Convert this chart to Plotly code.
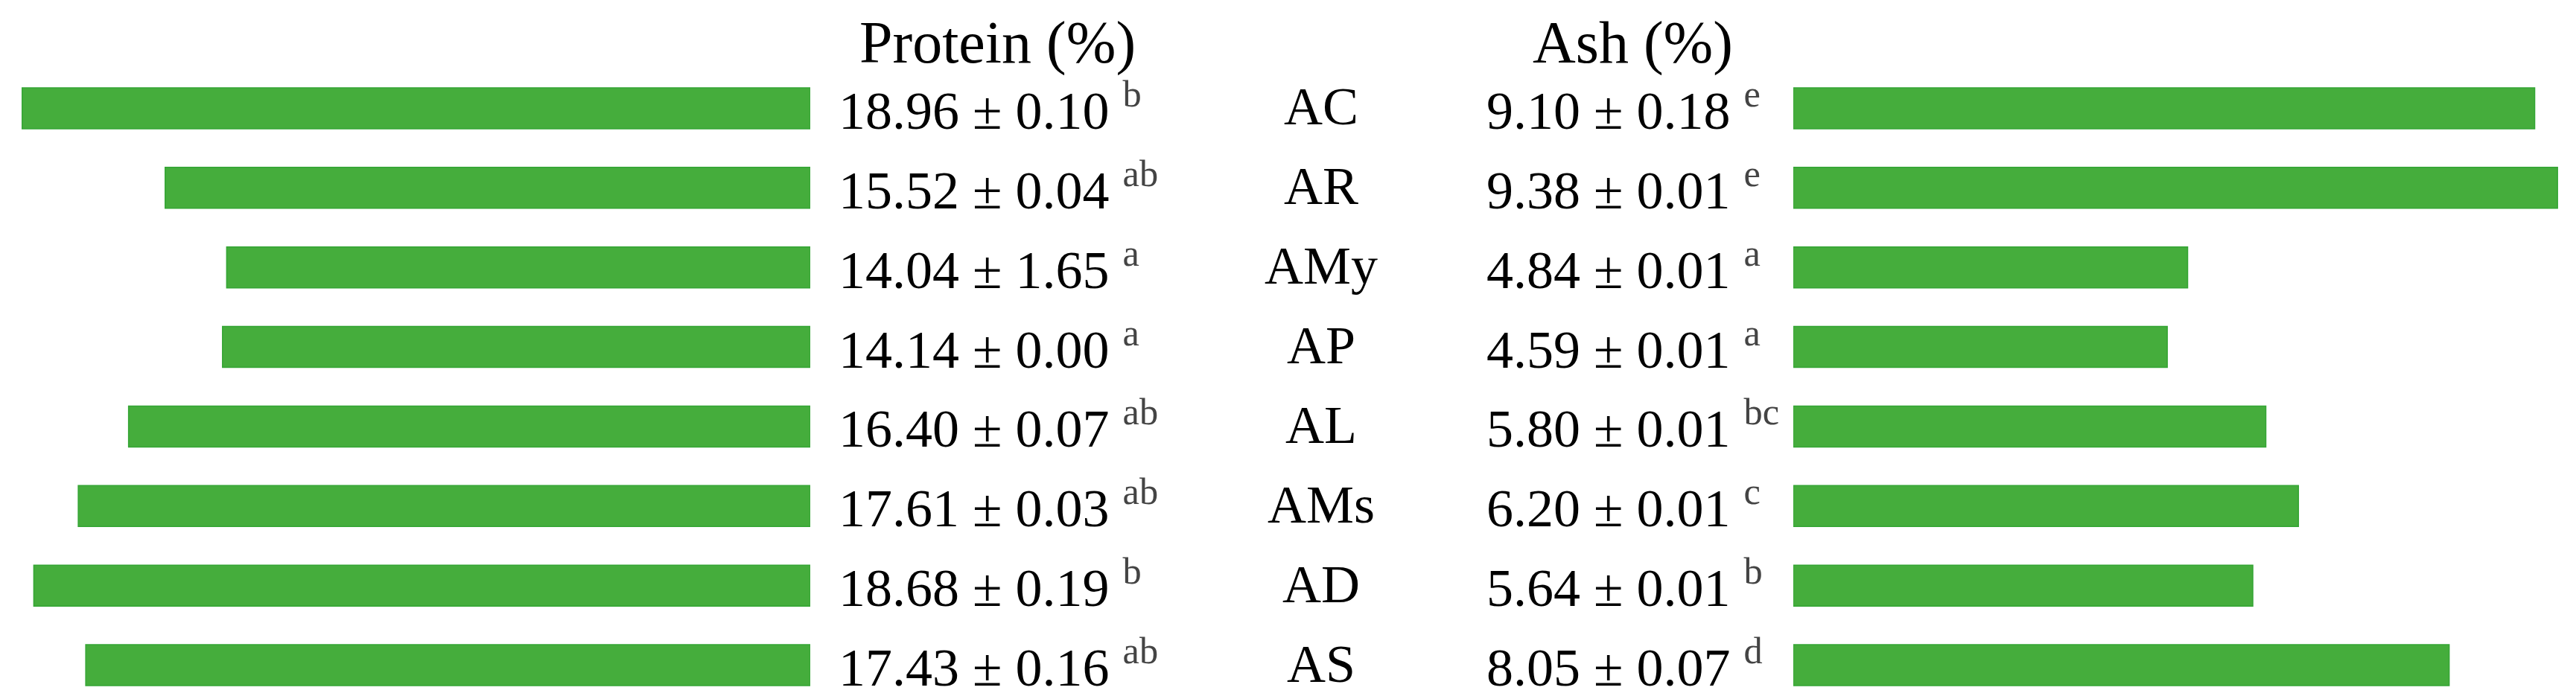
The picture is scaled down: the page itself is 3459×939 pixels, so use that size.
import plotly.graph_objects as go

samples = ["AC", "AR", "AMy", "AP", "AL", "AMs", "AD", "AS"]
protein = [18.96, 15.52, 14.04, 14.14, 16.40, 17.61, 18.68, 17.43]
protein_sd = [0.10, 0.04, 1.65, 0.00, 0.07, 0.03, 0.19, 0.16]
protein_grp = ["b", "ab", "a", "a", "ab", "ab", "b", "ab"]
ash = [9.10, 9.38, 4.84, 4.59, 5.80, 6.20, 5.64, 8.05]
ash_sd = [0.18, 0.01, 0.01, 0.01, 0.01, 0.01, 0.01, 0.07]
ash_grp = ["e", "e", "a", "a", "bc", "c", "b", "d"]

W, H = 3459, 939
green = "#45ad3c"
font = "Liberation Serif"
fsize = 72

fig = go.Figure()
fig.add_trace(go.Bar(x=protein, y=samples, orientation="h", width=0.515,
                     marker=dict(color=green, line=dict(color="#34a534", width=1.5)),
                     xaxis="x", yaxis="y", showlegend=False))
fig.add_trace(go.Bar(x=ash, y=samples, orientation="h", width=0.515,
                     marker=dict(color=green, line=dict(color="#34a534", width=1.5)),
                     xaxis="x2", yaxis="y", showlegend=False))

def label(v, sd, g):
    return f"{v:.2f} ± {sd:.2f} <sup><span style='color:#444'>{g}</span></sup>"

txt = dict(family=font, size=fsize, color="black")
ann = []
for s, v, sd, g in zip(samples, protein, protein_sd, protein_grp):
    ann.append(dict(x=1116 / W, xref="paper", y=s, yref="y", text=label(v, sd, g), font=txt,
                    xanchor="left", yanchor="middle", yshift=2, showarrow=False))
for s in samples:
    ann.append(dict(x=1766 / W, xref="paper", y=s, yref="y", text=s, font=txt,
                    xanchor="center", yanchor="middle", yshift=2, showarrow=False))
for s, v, sd, g in zip(samples, ash, ash_sd, ash_grp):
    ann.append(dict(x=1986 / W, xref="paper", y=s, yref="y", text=label(v, sd, g), font=txt,
                    xanchor="left", yanchor="middle", yshift=2, showarrow=False))
head = dict(family=font, size=80, color="black")
ann.append(dict(x=1331 / W, y=1 - 50 / H, xref="paper", yref="paper", text="Protein (%)",
                xanchor="center", yanchor="middle", showarrow=False, font=head))
ann.append(dict(x=2184 / W, y=1 - 50 / H, xref="paper", yref="paper", text="Ash (%)",
                xanchor="center", yanchor="middle", showarrow=False, font=head))

fig.update_layout(
    width=W, height=H,
    margin=dict(l=0, r=0, t=0, b=0),
    paper_bgcolor="white", plot_bgcolor="white",
    font=dict(family=font, size=fsize, color="black"),
    xaxis=dict(domain=[0, 1080 / W], range=[19.35, 0], visible=False),
    xaxis2=dict(domain=[2400 / W, 1], range=[0, 1059 / 109.4], visible=False),
    yaxis=dict(domain=[0, 1 - 84 / H], range=[7.5, -0.5], visible=False),
    annotations=ann,
)

fig.write_html("out.html")
